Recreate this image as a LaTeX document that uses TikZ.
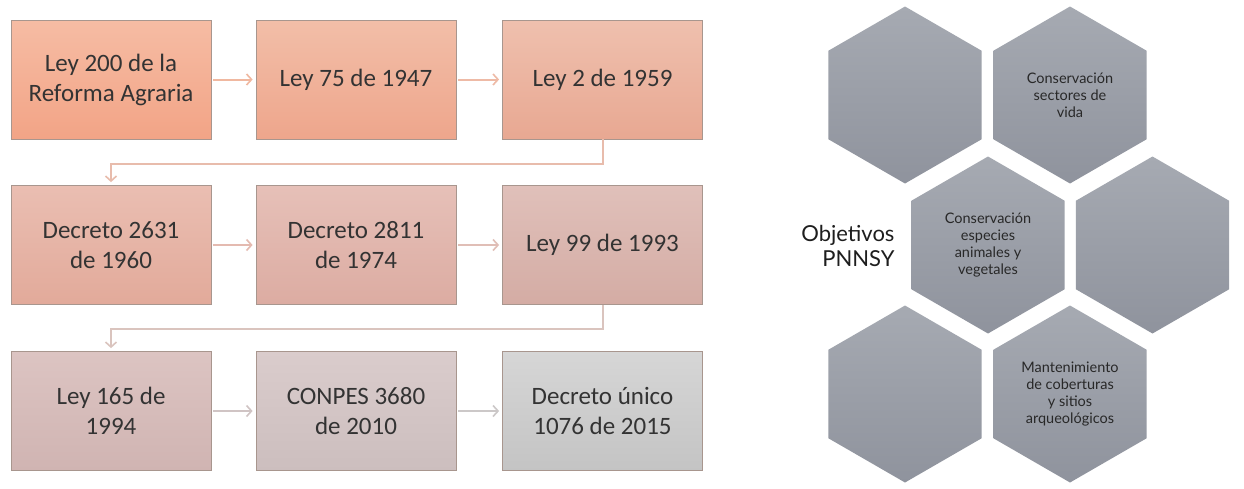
\documentclass[tikz,border=0pt]{standalone}
\usepackage{fontspec}
\setmainfont{Carlito}
\newfontfamily\hexfont{Lato}
\usetikzlibrary{arrows.meta,shapes.geometric}
\definecolor{txt}{HTML}{333333}
\definecolor{boxline}{HTML}{A8968E}
\definecolor{hextop}{HTML}{A6AAB2}
\definecolor{hexbot}{HTML}{8F939D}
\tikzset{
  lawbox/.style={draw=boxline, line width=0.8pt, minimum width=200pt, minimum height=119pt,
    inner sep=2pt, align=center, text=txt, font=\fontsize{25}{30}\selectfont},
  flow/.style={line width=2pt, -{Straight Barb[length=5pt,width=11pt,line width=1.6pt]},
    shorten <=2pt, shorten >=3pt},
  hexa/.style={regular polygon, regular polygon sides=6, shape border rotate=30,
    minimum size=177pt, inner sep=0pt, top color=hextop, bottom color=hexbot,
    align=center, text={rgb,255:red,40;green,40;blue,40}, font=\hexfont\fontsize{14.5}{17}\selectfont},
}
\begin{document}
\begin{tikzpicture}[x=1pt,y=-1pt]
\useasboundingbox (0,0) rectangle (1244,488);
\fill[white] (0,0) rectangle (1244,488);

% row 1
\node[lawbox, top color={rgb,255:red,246;green,188;blue,164}, bottom color={rgb,255:red,242;green,164;blue,134}] (b1) at (111,79.5) {Ley 200 de la\\Reforma Agraria};
\node[lawbox, top color={rgb,255:red,242;green,190;blue,168}, bottom color={rgb,255:red,238;green,166;blue,140}] (b2) at (356,79.5) {Ley 75 de 1947};
\node[lawbox, top color={rgb,255:red,239;green,192;blue,174}, bottom color={rgb,255:red,232;green,168;blue,146}] (b3) at (602.5,79.5) {Ley 2 de 1959};
% row 2
\node[lawbox, top color={rgb,255:red,234;green,190;blue,178}, bottom color={rgb,255:red,226;green,170;blue,154}] (b4) at (111,245) {Decreto 2631\\de 1960};
\node[lawbox, top color={rgb,255:red,230;green,192;blue,184}, bottom color={rgb,255:red,220;green,172;blue,162}] (b5) at (356,245) {Decreto 2811\\de 1974};
\node[lawbox, top color={rgb,255:red,224;green,192;blue,186}, bottom color={rgb,255:red,212;green,172;blue,164}] (b6) at (602.5,245) {Ley 99 de 1993};
% row 3
\node[lawbox, top color={rgb,255:red,220;green,196;blue,194}, bottom color={rgb,255:red,208;green,180;blue,178}] (b7) at (111,411) {Ley 165 de\\1994};
\node[lawbox, top color={rgb,255:red,218;green,204;blue,204}, bottom color={rgb,255:red,204;green,190;blue,190}] (b8) at (356,411) {CONPES 3680\\de 2010};
\node[lawbox, top color={rgb,255:red,214;green,214;blue,214}, bottom color={rgb,255:red,196;green,196;blue,196}] (b9) at (602.5,411) {Decreto único\\1076 de 2015};

% arrows
\draw[flow, color={rgb,255:red,240;green,184;blue,160}] (b1) -- (b2);
\draw[flow, color={rgb,255:red,238;green,186;blue,166}] (b2) -- (b3);
\draw[flow, color={rgb,255:red,228;green,186;blue,176}] (b4) -- (b5);
\draw[flow, color={rgb,255:red,224;green,190;blue,182}] (b5) -- (b6);
\draw[flow, color={rgb,255:red,208;green,196;blue,196}] (b7) -- (b8);
\draw[flow, color={rgb,255:red,204;green,200;blue,200}] (b8) -- (b9);
\draw[flow, shorten <=0pt, color={rgb,255:red,232;green,188;blue,172}] (b3.south) -- ++(0,25) -| (b4.north);
\draw[flow, shorten <=0pt, color={rgb,255:red,218;green,196;blue,190}] (b6.south) -- ++(0,24) -| (b7.north);

% hexagons
\node[hexa] (h1) at (905,95) {};
\node[hexa] (h2) at (1070,95) {Conservación\\sectores de\\vida};
\node[hexa] (h3) at (988,245) {Conservación\\especies\\animales y\\vegetales};
\node[hexa] (h4) at (1152.5,245) {};
\node[hexa] (h5) at (905,394) {};
\node[hexa] (h6) at (1070,394) {Mantenimiento\\de coberturas\\y sitios\\arqueológicos};

\node[anchor=east, align=right, text={rgb,255:red,30;green,30;blue,30}, font=\hexfont\fontsize{22}{25}\selectfont] (obj) at (898,246) {Objetivos\\PNNSY};
\end{tikzpicture}
\end{document}
